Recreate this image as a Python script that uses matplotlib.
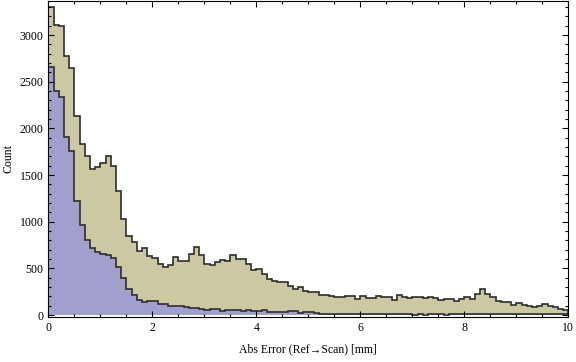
import numpy as np
import matplotlib
matplotlib.use('Agg')
import matplotlib.pyplot as plt
from matplotlib.ticker import MultipleLocator

# histogram bins: 0.1 mm wide from 0 to 10 mm
bin_edges = np.linspace(0, 10, 101)

# outer (all points) counts per bin
all_counts = [
    3297, 3107, 3096, 2772, 2643, 2129, 1829, 1704, 1561, 1582,
    1625, 1704, 1596, 1325, 1027, 843, 782, 682, 718, 632,
    611, 543, 514, 532, 621, 575, 575, 650, 725, 640,
    543, 532, 565, 586, 575, 640, 597, 597, 543, 479,
    490, 436, 389, 368, 350, 350, 307, 275, 297, 257,
    243, 243, 211, 211, 204, 190, 190, 200, 200, 168,
    200, 179, 179, 200, 190, 190, 157, 211, 190, 179,
    190, 190, 179, 190, 179, 157, 175, 168, 155, 168,
    190, 175, 222, 275, 222, 190, 147, 136, 136, 104,
    125, 104, 93, 82, 93, 115, 93, 82, 61, 50,
]

# inner (subset) counts per bin
sub_counts = [
    2654, 2403, 2339, 1910, 1760, 1218, 961, 804, 715, 672,
    650, 640, 611, 514, 402, 275, 214, 157, 139, 147,
    147, 118, 118, 96, 96, 96, 86, 72, 79, 68,
    50, 61, 61, 43, 54, 54, 54, 43, 54, 43,
    43, 54, 32, 36, 32, 32, 43, 43, 21, 32,
    32, 21, 11, 11, 11, 11, 11, 11, 14, 11,
    11, 11, 14, 11, 11, 11, 11, 11, 11, 11,
    4, 11, 4, 11, 11, 11, 4, 11, 11, 14,
    11, 11, 11, 14, 11, 14, 11, 11, 14, 11,
    11, 11, 14, 11, 11, 14, 11, 11, 11, 11,
]

plt.rcParams['font.family'] = ['Liberation Serif', 'DejaVu Serif']

fig = plt.figure(figsize=(5.76, 3.62), dpi=100)
ax = fig.add_axes([0.0839, 0.1243, 0.9028, 0.874])

ax.stairs(all_counts, bin_edges, fill=True, baseline=0,
          facecolor='#ccc8a2', edgecolor='none')
ax.stairs(all_counts, bin_edges, baseline=0, color='#2e2e2e', linewidth=1.2)
ax.stairs(sub_counts, bin_edges, fill=True, baseline=0,
          facecolor='#a09fcd', edgecolor='none')
ax.stairs(sub_counts, bin_edges, baseline=0, color='#2e2e2e', linewidth=1.2)

ax.set_xlim(0, 10)
ax.set_ylim(-21, 3370)

ax.xaxis.set_major_locator(MultipleLocator(2))
ax.xaxis.set_minor_locator(MultipleLocator(0.5))
ax.yaxis.set_major_locator(MultipleLocator(500))
ax.yaxis.set_minor_locator(MultipleLocator(100))
ax.tick_params(which='both', direction='in', top=True, right=True,
               labelsize=8.5, width=0.8)
ax.tick_params(which='major', length=4)
ax.tick_params(which='minor', length=2)
for s in ax.spines.values():
    s.set_linewidth(0.8)

ax.set_xlabel('Abs Error (Ref\u2192Scan) [mm]', fontsize=8.5, labelpad=7)
ax.set_ylabel('Count', fontsize=8.5, labelpad=4)

plt.savefig('out.png', dpi=100)
